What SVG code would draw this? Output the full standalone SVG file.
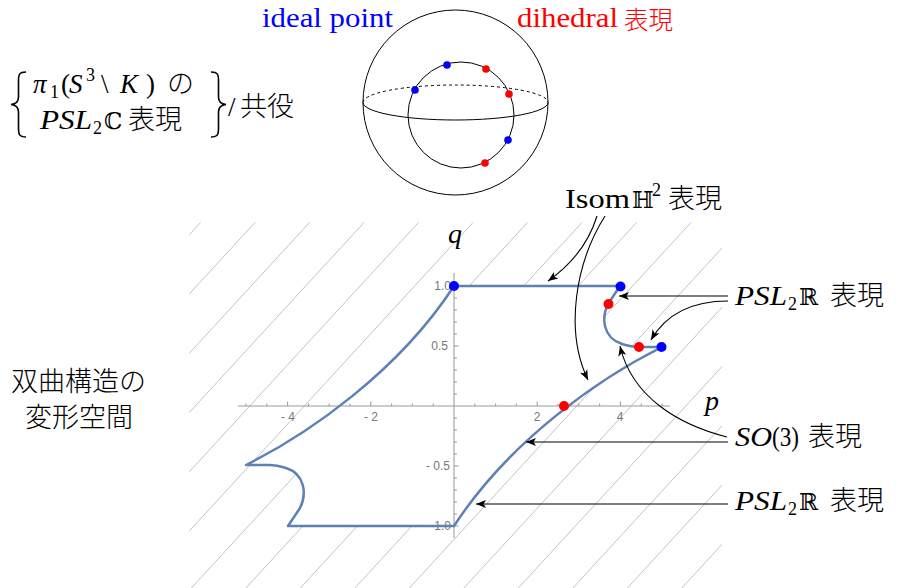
<svg xmlns="http://www.w3.org/2000/svg" width="897" height="588" viewBox="0 0 897 588">
<style>
.tex{font-family:"Liberation Serif","DejaVu Serif",serif;font-size:27px;fill:#000}
.it{font-style:italic}
.rm{font-style:normal}
.bb{font-family:"DejaVu Serif",serif;font-size:23px;font-style:normal}
.cjk{font-family:"Noto Sans CJK JP","Noto Sans CJK SC",sans-serif;font-size:27px;font-style:normal;font-weight:300}
.sub{font-size:18px;font-style:normal}
.tick{font-family:"Liberation Sans","DejaVu Sans",sans-serif;font-size:12px;fill:#777}
.arrow{fill:none;stroke:#000;stroke-width:1.1;marker-end:url(#ah)}
.hatch{stroke:#b4b4b4;stroke-width:0.8}
</style>
<defs>
<marker id="ah" markerWidth="12" markerHeight="10" refX="10" refY="5" orient="auto" markerUnits="userSpaceOnUse">
<path d="M0,1 L10,5 L0,9 L2.5,5 z" fill="#000"/>
</marker>
<clipPath id="hclip">
<path clip-rule="evenodd" d="M189.3,222.3 H722 V588 H189.3 Z M454,286 L620,286 L608,304 C601,318 603,338 622,344 C630,346.5 635,347 639,347 L662,347 C600,378 510,440 454,526 L288,526 L300,508 C307,494 305,474 286,468 C278,465.5 273,465 269,465 L246,465 C308,434 398,372 454,286 Z"/>
</clipPath>
</defs>
<rect width="897" height="588" fill="#fff"/>

<g id="hatching" clip-path="url(#hclip)" class="hatch">
<line x1="200.7" y1="222.3" x2="-139.3" y2="592"/>
<line x1="255.2" y1="222.3" x2="-84.8" y2="592"/>
<line x1="309.7" y1="222.3" x2="-30.3" y2="592"/>
<line x1="364.2" y1="222.3" x2="24.2" y2="592"/>
<line x1="418.7" y1="222.3" x2="78.7" y2="592"/>
<line x1="473.2" y1="222.3" x2="133.2" y2="592"/>
<line x1="527.7" y1="222.3" x2="187.7" y2="592"/>
<line x1="582.2" y1="222.3" x2="242.2" y2="592"/>
<line x1="636.7" y1="222.3" x2="296.7" y2="592"/>
<line x1="691.2" y1="222.3" x2="351.2" y2="592"/>
<line x1="745.7" y1="222.3" x2="405.7" y2="592"/>
<line x1="800.2" y1="222.3" x2="460.2" y2="592"/>
<line x1="854.7" y1="222.3" x2="514.7" y2="592"/>
<line x1="909.2" y1="222.3" x2="569.2" y2="592"/>
<line x1="963.7" y1="222.3" x2="623.7" y2="592"/>
<line x1="1018.2" y1="222.3" x2="678.2" y2="592"/>
<line x1="1072.7" y1="222.3" x2="732.7" y2="592"/>
</g>

<g id="axes" stroke="#999" stroke-width="1" fill="none">
<line x1="238" y1="406" x2="670" y2="406"/>
<line x1="454" y1="273" x2="454" y2="538"/>
<path d="M246,406v-2.5M266.8,406v-2.5M287.6,406v-4.5M308.4,406v-2.5M329.2,406v-2.5M350,406v-2.5M370.8,406v-4.5M391.6,406v-2.5M412.4,406v-2.5M433.2,406v-2.5M474.8,406v-2.5M495.6,406v-2.5M516.4,406v-2.5M537.2,406v-4.5M558,406v-2.5M578.8,406v-2.5M599.6,406v-2.5M620.4,406v-4.5M641.2,406v-2.5M662,406v-2.5"/>
<path d="M454,286h4.5M454,298h3M454,310h3M454,322h3M454,334h3M454,346h4.5M454,358h3M454,370h3M454,382h3M454,394h3M454,418h3M454,430h3M454,442h3M454,454h3M454,466h4.5M454,478h3M454,490h3M454,502h3M454,514h3M454,526h4.5"/>
</g>
<g id="ticklabels" class="tick">
<text x="288" y="421" text-anchor="middle">- 4</text>
<text x="371" y="421" text-anchor="middle">- 2</text>
<text x="537" y="421" text-anchor="middle">2</text>
<text x="620" y="421" text-anchor="middle">4</text>
<text x="451" y="290" text-anchor="end">1.0</text>
<text x="448" y="350" text-anchor="end">0.5</text>
<text x="450" y="470" text-anchor="end">- 0.5</text>
<text x="451" y="530" text-anchor="end">-1.0</text>
</g>
<g id="axislabels" class="tex it" style="font-size:28px">
<text x="448" y="243">q</text>
<text x="705" y="410">p</text>
</g>

<g id="curve">
<path d="M454,286 L620,286 L608,304 C601,318 603,338 622,344 C630,346.5 635,347 639,347 L662,347 C600,378 510,440 454,526 L288,526 L300,508 C307,494 305,474 286,468 C278,465.5 273,465 269,465 L246,465 C308,434 398,372 454,286 Z" fill="none" stroke="#5e81b5" stroke-width="2.5" stroke-linejoin="round"/>
</g>
<g id="plotdots">
<circle cx="454" cy="286" r="5" fill="#0000ff"/>
<circle cx="620.5" cy="286.5" r="5" fill="#0000ff"/>
<circle cx="661.5" cy="347" r="5" fill="#0000ff"/>
<circle cx="608.5" cy="304" r="5" fill="#ff0000"/>
<circle cx="639" cy="347" r="5" fill="#ff0000"/>
<circle cx="564" cy="406" r="5" fill="#ff0000"/>
</g>

<g id="sphere" fill="none" stroke="#000" stroke-width="1">
<circle cx="455.5" cy="102.5" r="92.5"/>
<path d="M363,102.5 A92.5,17.5 0 0 1 548,102.5" stroke-dasharray="3,3"/>
<path d="M363,102.5 A92.5,17.5 0 0 0 548,102.5"/>
<circle cx="461" cy="115" r="53"/>
</g>
<g id="spheredots">
<circle cx="447" cy="65" r="3.8" fill="#0000ff"/>
<circle cx="415" cy="90" r="3.8" fill="#0000ff"/>
<circle cx="508" cy="140" r="3.8" fill="#0000ff"/>
<circle cx="486" cy="69" r="3.8" fill="#ff0000"/>
<circle cx="509" cy="94" r="3.8" fill="#ff0000"/>
<circle cx="485" cy="163" r="3.8" fill="#ff0000"/>
</g>
<g id="sphere-labels">
<text class="tex" x="262" y="27" style="fill:#0000ff;font-size:28px" textLength="131" lengthAdjust="spacingAndGlyphs">ideal point</text>
<text class="tex" x="517" y="28.5" style="fill:#ff0000;font-size:28px"><tspan x="517" y="27" textLength="101" lengthAdjust="spacingAndGlyphs">dihedral</tspan><tspan class="cjk" x="624" y="28.5" style="font-size:24.5px">表現</tspan></text>
</g>

<g id="formula">
<path d="M26,72 C19,72 18.5,75 18.5,80 L18.5,97 C18.5,101 16,104 11,104.5 C16,105 18.5,108 18.5,112 L18.5,129 C18.5,134 19,137 26,137" fill="none" stroke="#000" stroke-width="1.6"/>
<path d="M211,72 C218,72 218.5,75 218.5,80 L218.5,97 C218.5,101 221,104 226,104.5 C221,105 218.5,108 218.5,112 L218.5,129 C218.5,134 218,137 211,137" fill="none" stroke="#000" stroke-width="1.6"/>
<text class="tex it" x="33" y="93"><tspan x="33" y="93">π</tspan><tspan class="sub" x="50" y="98">1</tspan><tspan class="rm" x="61" y="93">(</tspan><tspan x="69" y="93">S</tspan><tspan class="sub" x="86" y="81">3</tspan><tspan class="rm" x="101" y="93">\</tspan><tspan x="120" y="93">K</tspan><tspan class="rm" x="146" y="93">)</tspan><tspan class="cjk" x="167" y="93">の</tspan></text>
<text class="tex it" x="40" y="129"><tspan x="40" y="129" textLength="52" lengthAdjust="spacingAndGlyphs">PSL</tspan><tspan class="sub" x="93" y="134">2</tspan><tspan class="bb" x="104" y="129">ℂ</tspan><tspan class="cjk" x="128" y="129">表現</tspan></text>
<text class="tex" x="228" y="116"><tspan x="228" y="116">/</tspan><tspan class="cjk" x="240" y="116">共役</tspan></text>
</g>

<g id="space-label" class="cjk">
<text x="11" y="391">双曲構造の</text>
<text x="25" y="427">変形空間</text>
</g>

<g id="label-isom">
<text class="tex" x="565" y="208"><tspan x="565" y="208" textLength="65" lengthAdjust="spacingAndGlyphs">Isom</tspan><tspan class="bb" x="632" y="208">ℍ</tspan><tspan class="sub" x="652" y="196">2</tspan><tspan class="cjk" x="668" y="208">表現</tspan></text>
</g>
<g id="label-psl-upper">
<text class="tex it" x="735" y="305"><tspan x="735" y="305" textLength="52" lengthAdjust="spacingAndGlyphs">PSL</tspan><tspan class="sub" x="788" y="310">2</tspan><tspan class="bb" x="799" y="305">ℝ</tspan><tspan class="cjk" x="830" y="305">表現</tspan></text>
</g>
<g id="label-so3">
<text class="tex it" x="735" y="446"><tspan x="735" y="446" textLength="37" lengthAdjust="spacingAndGlyphs">SO</tspan><tspan class="rm" x="772" y="446" textLength="27" lengthAdjust="spacingAndGlyphs">(3)</tspan><tspan class="cjk" x="808" y="446">表現</tspan></text>
</g>
<g id="label-psl-lower">
<text class="tex it" x="735" y="510"><tspan x="735" y="510" textLength="52" lengthAdjust="spacingAndGlyphs">PSL</tspan><tspan class="sub" x="788" y="515">2</tspan><tspan class="bb" x="799" y="510">ℝ</tspan><tspan class="cjk" x="830" y="510">表現</tspan></text>
</g>

<g id="connectors">
<path class="arrow" d="M597,216 Q585,255 548,281"/>
<path class="arrow" d="M605,216 C576,262 564,330 588,380"/>
<path class="arrow" d="M728,296 L619,296"/>
<path class="arrow" d="M728,301 C692,301 666,314 651,340"/>
<path class="arrow" d="M727,437 C680,425 632,398 620,346"/>
<path class="arrow" d="M728,442 L526,442"/>
<path class="arrow" d="M728,504 L476,504"/>
</g>
</svg>
